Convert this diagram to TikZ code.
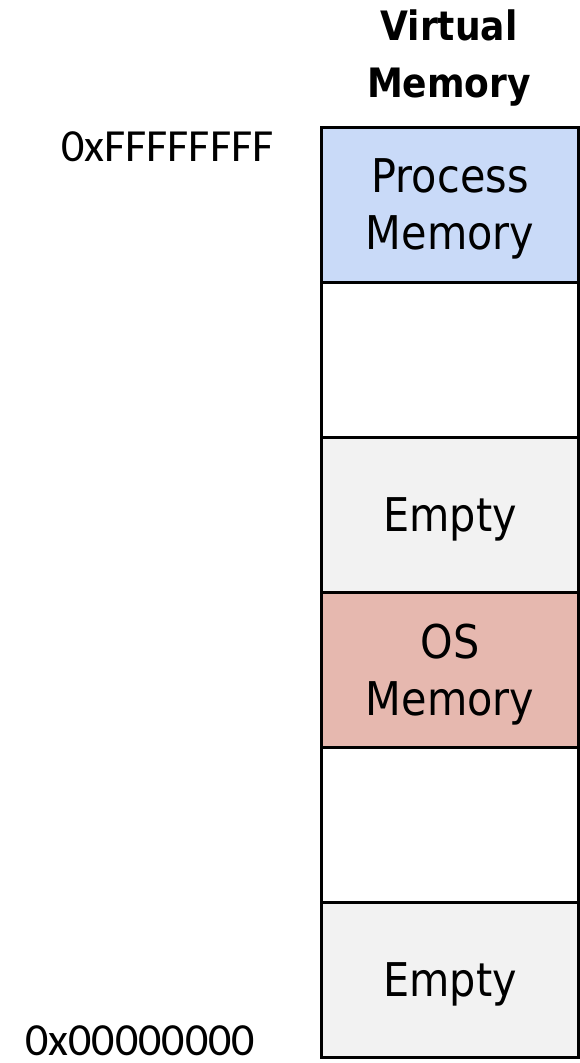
\documentclass[tikz,border=0pt]{standalone}
\usepackage{fontspec}
\newfontfamily\tahfont[FakeStretch=0.89]{DejaVu Sans}
\newfontfamily\calfont{Carlito}
\definecolor{procblue}{HTML}{C9DAF8}
\definecolor{emptygrey}{HTML}{F2F2F2}
\definecolor{osred}{HTML}{E6B8AF}
\begin{document}
\begin{tikzpicture}[x=1pt,y=-1pt,
  cell/.style={draw=black,line width=3.2pt,minimum width=257pt,minimum height=155pt,inner sep=0pt,anchor=north west},
  lbl/.style={align=center,inner sep=0pt,font=\tahfont\fontsize{46.5}{57}\selectfont,yshift=-4pt},
  addr/.style={font=\calfont\fontsize{46}{50}\selectfont,anchor=base west,inner sep=0pt,text depth=0pt},
  title/.style={font=\tahfont\bfseries\fontsize{40.5}{57}\selectfont,align=center,inner sep=0pt}]
\useasboundingbox (0,0) rectangle (580,1063);
\node[cell,fill=procblue] (c1) at (320,126) {};
\node[cell,fill=white] (c2) at (320,281) {};
\node[cell,fill=emptygrey] (c3) at (320,436) {};
\node[cell,fill=osred] (c4) at (320,591) {};
\node[cell,fill=white] (c5) at (320,746) {};
\node[cell,fill=emptygrey] (c6) at (320,901) {};
\node[lbl] (l1) at (c1.center) {Process\\Memory};
\node[lbl] (l3) at (c3.center) {Empty};
\node[lbl] (l4) at (c4.center) {OS\\Memory};
\node[lbl] (l6) at (c6.center) {Empty};
\node[title] (t) at (449,58) {Virtual\\Memory};
\node[addr] (top) at (61,161) {0xFFFFFFFF};
\node[addr] (bot) at (25,1055) {0x00000000};
\end{tikzpicture}
\end{document}
